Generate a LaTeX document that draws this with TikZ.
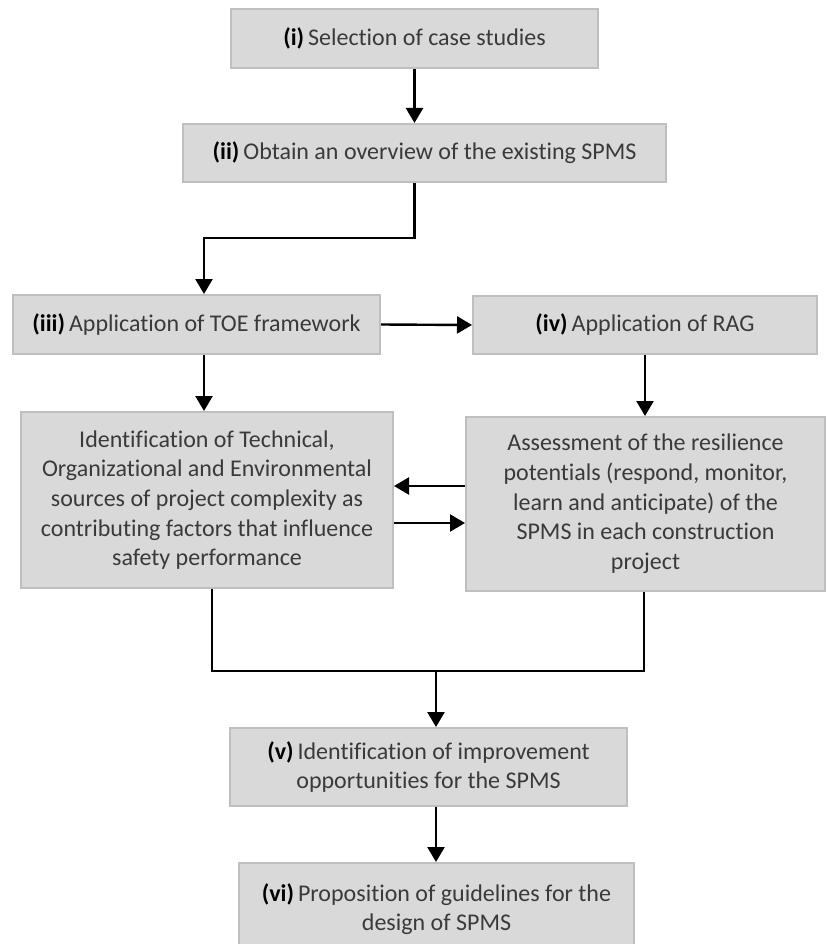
\documentclass[tikz,border=0pt]{standalone}
\usepackage{fontspec}
\setmainfont{Carlito}[Ligatures=NoCommon]
\usetikzlibrary{arrows.meta}
\definecolor{boxfill}{HTML}{D9D9D9}
\definecolor{boxline}{HTML}{BFBFBF}
\definecolor{txt}{HTML}{3A3A3A}
\tikzset{
  stepbox/.style={draw=boxline, line width=2pt, fill=boxfill, inner sep=0pt,
    align=center, text=txt, font=\fontsize{24}{29.7}\selectfont},
  arr/.style={line width=2.4pt, -{Triangle[width=17pt,length=15pt]}},
  link/.style={line width=2.4pt}
}
\newcommand{\lbl}[1]{\textbf{\color{black}(#1)}}
\begin{document}
\begin{tikzpicture}[x=1pt,y=1pt]
\useasboundingbox (0,0) rectangle (826,-944);
\clip (0,0) rectangle (826,-944);
% process steps
\node[stepbox, minimum width=367pt, minimum height=59pt] (i) at (414.5,-38.5)
  {\lbl{i}\,Selection of case studies};
\node[stepbox, minimum width=483pt, minimum height=58pt] (ii) at (424.5,-153)
  {\lbl{ii}\,Obtain an overview of the existing SPMS};
\node[stepbox, minimum width=367pt, minimum height=59pt] (iii) at (196.5,-324.5)
  {\lbl{iii}\,Application of TOE framework};
\node[stepbox, minimum width=344pt, minimum height=58pt] (iv) at (645,-325)
  {\lbl{iv}\,Application of RAG};
\node[stepbox, minimum width=372pt, minimum height=176pt] (toe) at (207,-500)
  {Identification of Technical,\\Organizational and Environmental\\sources of project complexity as\\contributing factors that influence\\safety performance};
\node[stepbox, minimum width=359pt, minimum height=174pt] (rag) at (645.5,-504)
  {Assessment of the resilience\\potentials (respond, monitor,\\learn and anticipate) of the\\SPMS in each construction\\project};
\node[stepbox, minimum width=397pt, minimum height=78pt] (v) at (428.5,-767)
  {\lbl{v}\,Identification of improvement\\opportunities for the SPMS};
\node[stepbox, minimum width=395pt, minimum height=92pt] (vi) at (436.5,-909)
  {\lbl{vi}\,Proposition of guidelines for the\\design of SPMS};
% routing points
\coordinate (bend) at (204,-238);
\coordinate (jl) at (212,-671);
\coordinate (jr) at (644,-671);
\coordinate (join) at (436,-671);
% connectors
\draw[arr] (i.south) -- (i.south |- ii.north);
\draw[arr] (ii.south -| i.south) |- (bend) -- (bend |- iii.north);
\draw[arr] (iii.east) -- (iv.west);
\draw[arr] (iii.south -| bend) -- (bend |- toe.north);
\draw[arr] (iv.south) -- (iv.south |- rag.north);
\draw[arr] (rag.west |- 0,-486) -- (toe.east |- 0,-486);
\draw[arr] (toe.east |- 0,-523) -- (rag.west |- 0,-523);
\draw[link] (toe.south -| jl) -- (jl) -- (jr) -- (rag.south -| jr);
\draw[arr] (join) -- (join |- v.north);
\draw[arr] (v.south -| join) -- (join |- vi.north);
\end{tikzpicture}
\end{document}
